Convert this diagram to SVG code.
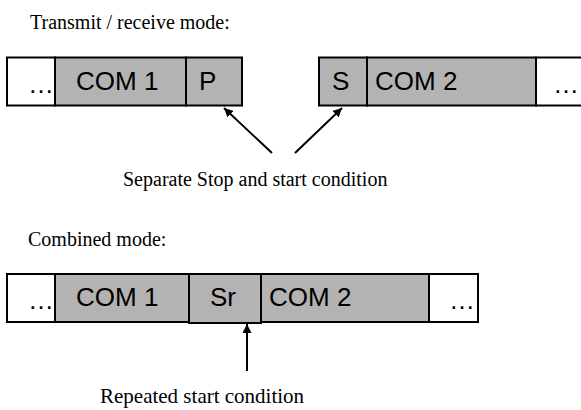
<svg xmlns="http://www.w3.org/2000/svg" width="581" height="410" viewBox="0 0 581 410">
<defs>
<style>
.box{stroke:#000;stroke-width:2}
.g{fill:#b3b3b3}
.w{fill:#fff}
.s{font-family:"Liberation Sans",Arial,sans-serif;font-size:26px;fill:#000}
.d{font-family:"Liberation Sans",Arial,sans-serif;font-size:26px;fill:#000}
.t{font-family:"Liberation Serif","Times New Roman",serif;font-size:20px;fill:#000}
.c{stroke:#000;stroke-width:2;fill:none}
</style>
<marker id="ah" viewBox="0 0 10 10" refX="10" refY="5" markerWidth="9" markerHeight="9" markerUnits="userSpaceOnUse" orient="auto">
<path d="M0,0 L10,5 L0,10 z" fill="#000"/>
</marker>
</defs>
<rect width="581" height="410" fill="#fff"/>
<text class="t" x="30" y="29">Transmit / receive mode:</text>
<g id="top-dots-l"><rect class="box w" x="7" y="57.5" width="48" height="48"/><text class="d" x="28" y="93">…</text></g>
<g id="top-com1"><rect class="box g" x="55" y="57.5" width="131" height="48"/><text class="s" x="76" y="90">COM 1</text></g>
<g id="top-p"><rect class="box g" x="186" y="57.5" width="56" height="48"/><text class="s" x="199" y="90">P</text></g>
<g id="top-s"><rect class="box g" x="319" y="57.5" width="48" height="48"/><text class="s" x="332" y="90">S</text></g>
<g id="top-com2"><rect class="box g" x="367" y="57.5" width="169" height="48"/><text class="s" x="375" y="90">COM 2</text></g>
<g id="top-dots-r"><rect class="box w" x="536" y="57.5" width="60" height="48"/><text class="d" x="553" y="93">…</text></g>
<text class="t" x="123" y="186">Separate Stop and start condition</text>
<text class="t" x="28" y="246">Combined mode:</text>
<g id="bot-dots-l"><rect class="box w" x="7" y="274" width="48" height="48"/><text class="d" x="28" y="309">…</text></g>
<g id="bot-com1"><rect class="box g" x="55" y="274" width="134" height="48"/><text class="s" x="76" y="306">COM 1</text></g>
<g id="bot-sr"><rect class="box g" x="189" y="274" width="72" height="49"/><text class="s" x="210" y="306">Sr</text></g>
<g id="bot-com2"><rect class="box g" x="261" y="274" width="168" height="48"/><text class="s" x="269" y="306">COM 2</text></g>
<g id="bot-dots-r"><rect class="box w" x="429" y="274" width="49" height="48"/><text class="d" x="449" y="309">…</text></g>
<text class="t" x="100" y="403" style="font-size:21px">Repeated start condition</text>
<g id="connectors">
<line class="c" x1="272" y1="153" x2="224" y2="108" marker-end="url(#ah)"/>
<line class="c" x1="295" y1="153" x2="342" y2="108" marker-end="url(#ah)"/>
<line class="c" x1="247" y1="371" x2="247" y2="324" marker-end="url(#ah)"/>
</g>
</svg>
